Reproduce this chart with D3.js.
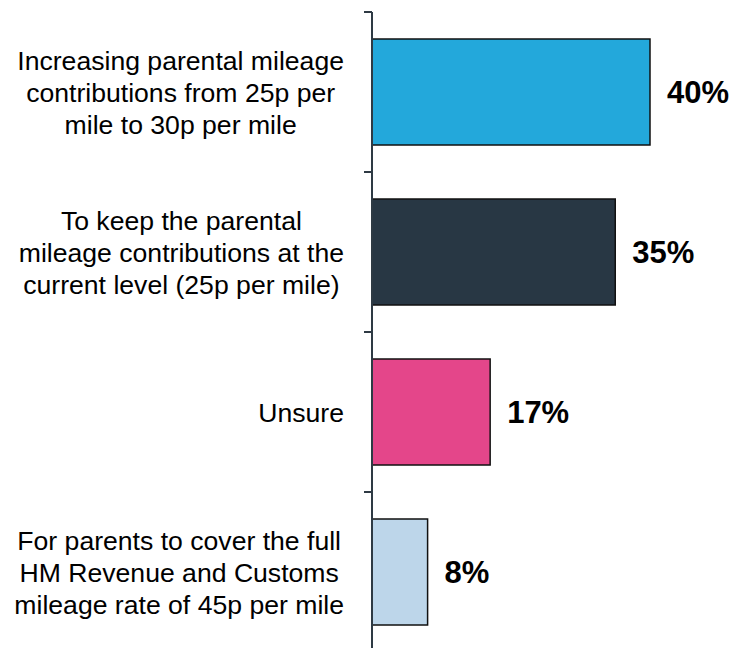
<!DOCTYPE html>
<html>
<head>
<meta charset="utf-8">
<script src="https://cdn.jsdelivr.net/npm/d3@7"></script>
<style>
  html, body { margin: 0; padding: 0; background: #fff; }
  svg { display: block; font-family: "Liberation Sans", Arial, sans-serif; }
</style>
</head>
<body>
<svg id="chart" width="747" height="648"></svg>
<script>
const categories = [
  ["Increasing parental mileage", "contributions from 25p per", "mile to 30p per mile"],
  ["To keep the parental", "mileage contributions at the", "current level (25p per mile)"],
  ["Unsure"],
  ["For parents to cover the full", "HM Revenue and Customs", "mileage rate of 45p per mile"]
];
const values = [40, 35, 17, 8];
const valueLabels = ["40%", "35%", "17%", "8%"];
const colors = ["#23A8DB", "#283744", "#E4468A", "#BDD6EA"];

const svg = d3.select("#chart");
const ids = categories.map((c, i) => i);

const x = d3.scaleLinear().domain([0, 40]).range([372, 650]);
const y = d3.scaleBand().domain(ids).range([12, 652]).paddingInner(0.3375).paddingOuter(0.16875);

// bars
svg.selectAll("rect.bar").data(ids).join("rect")
  .attr("class", "bar")
  .attr("x", x(0))
  .attr("y", d => y(d))
  .attr("width", d => x(values[d]) - x(0))
  .attr("height", y.bandwidth())
  .attr("fill", d => colors[d])
  .attr("stroke", "#111")
  .attr("stroke-width", 1.5);

// axis line + ticks at band boundaries
const axisColor = "#2E3A44";
const gap = (y.step() - y.bandwidth()) / 2;
const bounds = ids.map(d => y(d) - gap).concat([y.range()[1]]);
svg.append("line")
  .attr("x1", x(0)).attr("x2", x(0))
  .attr("y1", bounds[0]).attr("y2", 648)
  .attr("stroke", axisColor).attr("stroke-width", 2);
svg.selectAll("line.tick").data(bounds).join("line")
  .attr("class", "tick")
  .attr("x1", x(0) - 8).attr("x2", x(0))
  .attr("y1", d => d).attr("y2", d => d)
  .attr("stroke", axisColor).attr("stroke-width", 2);

// value labels
svg.selectAll("text.val").data(ids).join("text")
  .attr("class", "val")
  .attr("x", d => x(values[d]) + 17)
  .attr("y", d => y(d) + y.bandwidth() / 2)
  .attr("dy", "0.36em")
  .attr("font-size", 31)
  .attr("font-weight", "bold")
  .attr("fill", "#000")
  .text(d => valueLabels[d]);

// category labels
const rightEdge = 344;
const lineH = 32;
ids.forEach(d => {
  const lines = categories[d];
  const g = svg.append("g");
  const cy = y(d) + y.bandwidth() / 2;
  const texts = lines.map((t, i) => g.append("text")
    .attr("y", cy + (i - (lines.length - 1) / 2) * lineH)
    .attr("dy", "0.36em")
    .attr("font-size", 26.6)
    .attr("fill", "#000")
    .attr("text-anchor", "middle")
    .text(t));
  const maxW = d3.max(texts, t => t.node().getComputedTextLength());
  texts.forEach(t => t.attr("x", rightEdge - maxW / 2));
});
</script>
</body>
</html>
